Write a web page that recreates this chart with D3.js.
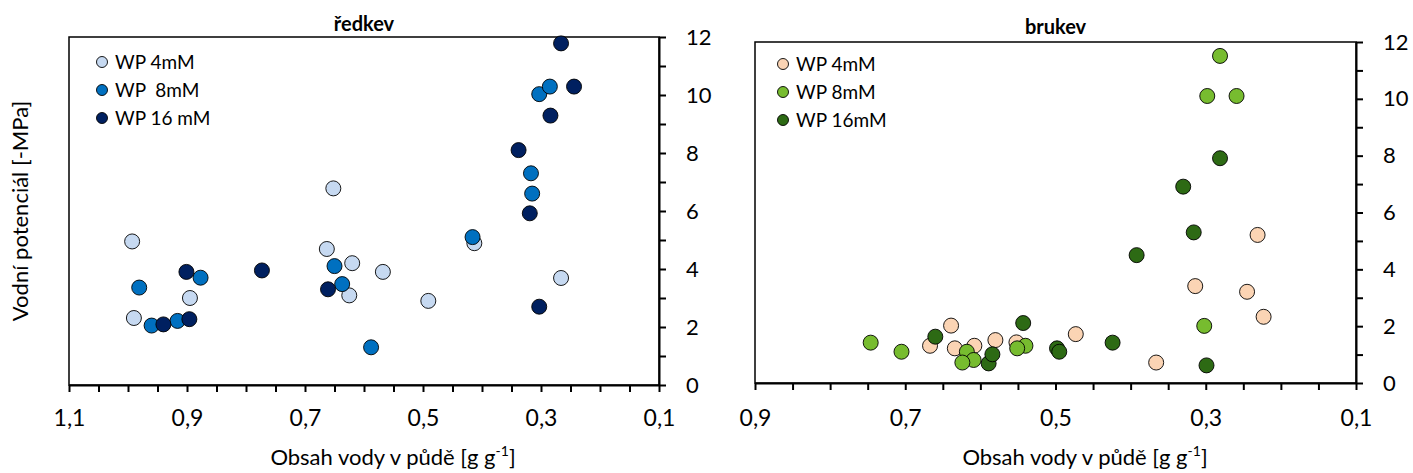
<!DOCTYPE html>
<html>
<head>
<meta charset="utf-8">
<script src="https://cdn.jsdelivr.net/npm/d3@7"></script>
<style>
  body { margin: 0; background: #fff; }
  svg { font-family: Lato, "Open Sans", sans-serif; }
  .axis path, .axis line { stroke: #000; }
</style>
</head>
<body>
<svg id="chart" width="1413" height="473"></svg>
<script>
// ředkev - [obsah vody, vodní potenciál]
const redkev4 = [[0.993,4.95],[0.990,2.31],[0.895,3.00],[0.663,4.69],[0.620,4.20],[0.625,3.09],
                 [0.568,3.90],[0.491,2.90],[0.413,4.89],[0.266,3.69],[0.652,6.78]];
const redkev8 = [[0.981,3.36],[0.960,2.05],[0.916,2.21],[0.877,3.70],[0.650,4.10],[0.637,3.48],
                 [0.588,1.30],[0.416,5.10],[0.317,7.30],[0.315,6.60],[0.303,10.03],[0.285,10.29]];
const redkev16 = [[0.940,2.09],[0.896,2.27],[0.901,3.90],[0.773,3.95],[0.661,3.30],[0.338,8.10],
                  [0.319,5.92],[0.303,2.70],[0.284,9.29],[0.266,11.78],[0.244,10.29]];

// brukev
const brukev4 = [[0.231,5.21],[0.314,3.41],[0.245,3.21],[0.223,2.33],[0.473,1.72],[0.366,0.72],
                 [0.667,1.31],[0.639,2.02],[0.634,1.22],[0.608,1.31],[0.580,1.51],[0.552,1.43]];
const brukev8 = [[0.281,11.51],[0.298,10.10],[0.259,10.10],[0.302,2.01],[0.746,1.42],[0.705,1.10],
                 [0.618,1.10],[0.609,0.81],[0.624,0.72],[0.540,1.31],[0.551,1.22]];
const brukev16 = [[0.281,7.91],[0.330,6.91],[0.316,5.30],[0.392,4.50],[0.424,1.42],[0.498,1.22],
                  [0.495,1.10],[0.299,0.62],[0.660,1.63],[0.589,0.69],[0.584,1.01],[0.543,2.11]];

const redkevLabels = ["WP 4mM", "WP  8mM", "WP 16 mM"];
const brukevLabels = ["WP 4mM", "WP 8mM", "WP 16mM"];
const yTicks = d3.range(0, 13);

let chart = d3.select("#chart");
let comma = d3.formatLocale({decimal: ",", thousands: " ", grouping: [3], currency: ["", ""]}).format(".1f");

function drawPanel(opt) {
	let x = d3.scaleLinear().domain(opt.xDomain).range([opt.left, opt.right]);
	let y = d3.scaleLinear().domain([0, 12]).range([opt.bottom, opt.top]);

	// frame
	chart.append("rect")
		.attr("x", opt.left).attr("y", opt.top)
		.attr("width", opt.right - opt.left).attr("height", opt.bottom - opt.top)
		.attr("fill", "none").attr("stroke", "#000").attr("stroke-width", 1.5);

	// x axis with ticks every 0.05
	let xTicks = d3.range(0, Math.round((opt.xDomain[0] - 0.1) / 0.05) + 1).map(i => 0.1 + i * 0.05);
	let xAxis = d3.axisBottom(x)
		.tickValues(xTicks)
		.tickSize(7)
		.tickSizeOuter(0)
		.tickPadding(opt.xPad)
		.tickFormat(d => (Math.round(d * 100) % 20 === 10) ? comma(d) : "");
	chart.append("g")
		.attr("class", "axis")
		.attr("transform", "translate(0," + opt.bottom + ")")
		.call(xAxis)
		.call(g => g.selectAll("path, line").attr("stroke-width", 2))
		.call(g => g.selectAll("text").attr("font-size", 23).attr("fill", "#000").attr("font-family", "Lato"));

	// y axis on the right
	let yAxis = d3.axisRight(y)
		.tickValues(yTicks)
		.tickSize(7)
		.tickSizeOuter(0)
		.tickPadding(20)
		.tickFormat(d => d % 2 === 0 ? d : "");
	chart.append("g")
		.attr("class", "axis")
		.attr("transform", "translate(" + opt.right + ",0)")
		.call(yAxis)
		.call(g => g.selectAll("path, line").attr("stroke-width", 2))
		.call(g => g.selectAll("text").attr("font-size", 22).attr("fill", "#000").attr("font-family", "Lato"));

	// points
	opt.series.forEach((s, i) => {
		chart.append("g")
			.selectAll("circle")
			.data(s)
			.join("circle")
			.attr("cx", d => x(d[0]))
			.attr("cy", d => y(d[1]))
			.attr("r", 7.5)
			.attr("fill", opt.colors[i])
			.attr("stroke", "#000")
			.attr("stroke-width", 0.9);
	});

	// legend
	opt.labels.forEach((t, i) => {
		chart.append("circle")
			.attr("cx", opt.legX)
			.attr("cy", opt.legY + i * 28)
			.attr("r", 5.5)
			.attr("fill", opt.colors[i])
			.attr("stroke", "#000")
			.attr("stroke-width", 0.9);
		chart.append("text")
			.text(t)
			.attr("x", opt.legX + 13)
			.attr("y", opt.legY + i * 28)
			.attr("dy", "0.36em")
			.attr("font-size", 19)
			.style("white-space", "pre")
			.attr("xml:space", "preserve");
	});

	// title
	chart.append("text")
		.text(opt.title)
		.attr("x", (opt.left + opt.right) / 2)
		.attr("y", opt.titleY)
		.attr("font-size", 20)
		.attr("font-weight", "bold")
		.attr("text-anchor", "middle");

	// x axis label
	let xl = chart.append("text")
		.attr("x", opt.xLabelX)
		.attr("y", 465)
		.attr("font-size", 22)
		.attr("text-anchor", "middle");
	xl.append("tspan").text("Obsah vody v půdě [g g");
	xl.append("tspan").text("-1").attr("font-size", 14).attr("dy", -9);
	xl.append("tspan").text("]").attr("dy", 9);
}

drawPanel({
	title: "ředkev", titleY: 31,
	left: 69, right: 659, top: 37, bottom: 385, xDomain: [1.1, 0.1], xPad: 18,
	series: [redkev4, redkev8, redkev16],
	colors: ["#C6D9F1", "#0070C0", "#002060"],
	labels: redkevLabels, legX: 102, legY: 62,
	xLabelX: 393
});

drawPanel({
	title: "brukev", titleY: 34,
	left: 755, right: 1356, top: 42, bottom: 383, xDomain: [0.9, 0.1], xPad: 20,
	series: [brukev4, brukev8, brukev16],
	colors: ["#FBD4B4", "#77BC2F", "#2D6A14"],
	labels: brukevLabels, legX: 783, legY: 64,
	xLabelX: 1085
});

// y axis label (shared, left)
chart.append("text")
	.text("Vodní potenciál [-MPa]")
	.attr("transform", "translate(28,211) rotate(-90)")
	.attr("font-size", 22)
	.attr("text-anchor", "middle");
</script>
</body>
</html>
